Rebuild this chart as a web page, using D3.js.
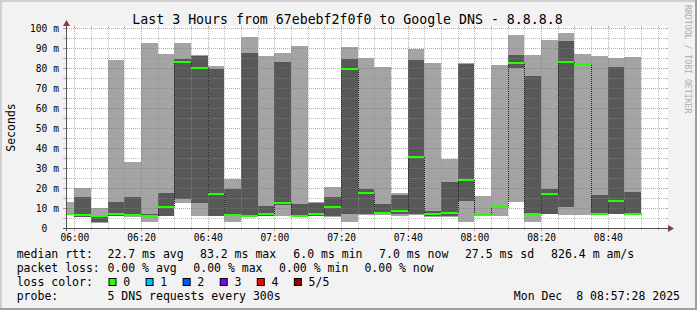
<!DOCTYPE html>
<html><head><meta charset="utf-8">
<script src="https://cdn.jsdelivr.net/npm/d3@7"></script>
<style>
html,body{margin:0;padding:0;background:#f2f2f2;}
svg{display:block;}
text{font-family:"DejaVu Sans Mono",monospace;fill:#000;}
</style></head><body>
<svg id="chart" width="697" height="310"></svg>
<script>
// ---- data (ms) ----
const barStart   = ["05:55","06:00","06:05","06:10","06:15","06:20","06:25","06:30","06:35","06:40","06:45","06:50","06:55","07:00","07:05","07:10","07:15","07:20","07:25","07:30","07:35","07:40","07:45","07:50","07:55","08:00","08:05","08:10","08:15","08:20","08:25","08:30","08:35","08:40","08:45"];
const pingMin    = [6.3,5.5,2.3,6.0,5.6,3.2,6.0,12.7,6.0,6.0,3.2,5.5,6.0,6.2,5.5,5.8,5.7,3.2,6.5,6.5,6.0,6.5,5.7,5.7,3.2,6.2,6.0,13.2,3.2,6.8,6.5,6.5,6.5,6.8,6.5];
const pingLow    = [6.6,5.7,3.2,6.2,5.8,5.5,6.2,14.5,12.7,6.2,6.0,5.5,6.2,11.7,5.7,6.0,6.0,6.8,6.8,6.8,6.8,6.8,6.0,6.0,13.7,6.4,10.2,80.2,6.5,7.0,10.3,81.8,6.5,7.0,6.5];
const pingMedian = [6.9,6.5,6.0,7.0,6.5,6.0,10.5,83.2,79.8,17.2,6.5,6.0,6.8,12.7,6.0,7.0,10.5,79.7,17.7,7.7,8.7,35.7,7.0,7.7,24.2,7.0,10.7,82.3,7.0,17.2,83.0,82.2,7.0,13.7,7.0];
const pingHigh   = [7.3,15.5,6.4,13.0,15.3,6.8,17.7,84.5,86.0,79.5,19.5,87.3,11.0,83.0,12.0,12.3,15.3,84.5,19.5,12.0,16.5,84.0,8.7,23.0,82.0,7.5,11.2,86.5,76.0,19.5,93.5,82.6,16.5,80.3,18.0];
const pingMax    = [13.2,19.9,9.8,84.0,33.2,92.7,87.0,92.7,86.5,81.0,24.5,95.7,86.0,87.7,91.0,13.0,20.5,90.5,85.0,80.5,17.7,89.5,82.7,34.7,82.3,16.0,81.5,96.5,86.5,94.0,97.5,87.0,86.0,85.0,85.5];
const yTicks      = [0,10,20,30,40,50,60,70,80,90,100];
const xTickLabels = ["06:00","06:20","06:40","07:00","07:20","07:40","08:00","08:20","08:40"];
const title = "Last 3 Hours from 67ebebf2f0f0 to Google DNS - 8.8.8.8";
const lossLabels = ["0","1","2","3","4","5/5"];
const lossColors = ["#26ff00","#00b8ff","#0059ff","#7e00ff","#ff0000","#a10000"];
const legendRtt  = ["median rtt:","22.7 ms avg","83.2 ms max","6.0 ms min","7.0 ms now","27.5 ms sd","826.4 m am/s"];
const legendLoss = ["packet loss:","0.00 % avg","0.00 % max","0.00 % min","0.00 % now"];
const legendProbe = ["probe:","5 DNS requests every 300s"];
const stamp = "Mon Dec  8 08:57:28 2025";

// ---- layout ----
const svg = d3.select("#chart");
const L = 66, R = 666, T = 28, B = 228;
const day = (hm, s = 0) => { const [h, m] = hm.split(":").map(Number); return new Date(2025, 11, 8, h, m, s); };
const x = d3.scaleTime().domain([day("05:57", 28), day("08:57", 28)]).range([L, R]);
const y = d3.scaleLinear().domain([0, 100]).range([B, T]);
const px = t => Math.round(x(t));
const py = v => Math.round(y(v));

// background + 3D frame
svg.append("rect").attr("width", 697).attr("height", 310).attr("fill", "#f2f2f2");
svg.append("rect").attr("x", 0).attr("y", 0).attr("width", 697).attr("height", 2).attr("fill", "#cfcfcf");
svg.append("rect").attr("x", 0).attr("y", 0).attr("width", 2).attr("height", 310).attr("fill", "#cfcfcf");
svg.append("rect").attr("x", 0).attr("y", 308).attr("width", 697).attr("height", 2).attr("fill", "#9e9e9e");
svg.append("rect").attr("x", 695).attr("y", 0).attr("width", 2).attr("height", 310).attr("fill", "#9e9e9e");

// canvas
svg.append("rect").attr("x", L).attr("y", T - 2).attr("width", R - L + 2).attr("height", B - T + 2).attr("fill", "#fff");

svg.append("defs").append("clipPath").attr("id", "plotclip")
  .append("rect").attr("x", L).attr("y", 0).attr("width", R - L).attr("height", 310);

const bars = barStart.map((s, i) => ({
  t0: day(s), t1: new Date(day(s).getTime() + 5 * 60000),
  min: pingMin[i], low: pingLow[i], med: pingMedian[i], high: pingHigh[i], max: pingMax[i]
}));

const gBars = svg.append("g").attr("clip-path", "url(#plotclip)");
// outer smoke (ping1..ping5)
gBars.selectAll("rect.outer").data(bars).join("rect").attr("class", "outer")
  .attr("x", d => px(d.t0)).attr("width", d => px(d.t1) - px(d.t0))
  .attr("y", d => py(d.max)).attr("height", d => py(d.min) - py(d.max))
  .attr("fill", "#a4a4a4");
// inner smoke (ping2..ping4)
gBars.selectAll("rect.inner").data(bars).join("rect").attr("class", "inner")
  .attr("x", d => px(d.t0)).attr("width", d => px(d.t1) - px(d.t0))
  .attr("y", d => py(d.high)).attr("height", d => Math.max(0, py(d.low) - py(d.high)))
  .attr("fill", "#585858");

// grid
const gGrid = svg.append("g");
const minorX = d3.timeMinute.every(5).range(x.domain()[0], x.domain()[1]).filter(t => t.getMinutes() % 20 !== 0);
const majorX = d3.timeMinute.every(20).range(x.domain()[0], x.domain()[1]);
const minorCol = "rgba(143,143,143,0.6)", majorCol = "rgba(222,79,79,0.6)";
function vline(t, col, tick) {
  const xx = px(t) + 0.5;
  gGrid.append("line").attr("x1", xx).attr("x2", xx).attr("y1", B).attr("y2", T - 1)
    .attr("stroke", col).attr("stroke-dasharray", "1,1");
  gGrid.append("line").attr("x1", xx).attr("x2", xx).attr("y1", B).attr("y2", B + tick).attr("stroke", col);
  gGrid.append("line").attr("x1", xx).attr("x2", xx).attr("y1", T - 2).attr("y2", T).attr("stroke", col);
}
minorX.forEach(t => vline(t, minorCol, 2));
majorX.forEach(t => vline(t, majorCol, 3));
function hline(v, col) {
  const yy = py(v) + 0.5;
  gGrid.append("line").attr("x1", L - 1).attr("x2", R + 1).attr("y1", yy).attr("y2", yy)
    .attr("stroke", col).attr("stroke-dasharray", "1,1");
  gGrid.append("line").attr("x1", L - 3).attr("x2", L).attr("y1", yy).attr("y2", yy).attr("stroke", col);
  gGrid.append("line").attr("x1", R).attr("x2", R + 2).attr("y1", yy).attr("y2", yy).attr("stroke", col);
}
d3.range(5, 100, 10).forEach(v => hline(v, minorCol));
yTicks.filter(v => v > 0).forEach(v => hline(v, majorCol));

// median step line (dotted) + median band
const gMed = svg.append("g").attr("clip-path", "url(#plotclip)");
const stepLine = d3.line().x(d => d[0]).y(d => d[1]);
const stepPts = [];
bars.forEach(d => { stepPts.push([px(d.t0) + 0.5, py(d.med)]); stepPts.push([px(d.t1) + 0.5, py(d.med)]); });
gMed.append("path").attr("d", stepLine(stepPts)).attr("fill", "none")
  .attr("stroke", "#202020").attr("stroke-width", 1).attr("stroke-dasharray", "1,1");
gMed.selectAll("rect.med").data(bars).join("rect").attr("class", "med")
  .attr("x", d => px(d.t0)).attr("width", d => px(d.t1) - px(d.t0))
  .attr("y", d => py(d.med + 0.5)).attr("height", d => py(d.med - 0.5) - py(d.med + 0.5))
  .attr("fill", lossColors[0]);

// axes lines + arrows
svg.append("line").attr("x1", L - 3).attr("x2", R + 4).attr("y1", B + 0.5).attr("y2", B + 0.5).attr("stroke", "#545454");
svg.append("line").attr("x1", L + 0.5).attr("x2", L + 0.5).attr("y1", B + 3).attr("y2", T - 4).attr("stroke", "#545454");
svg.append("path").attr("d", `M${R + 2},${B - 3} L${R + 8},${B + 0.5} L${R + 2},${B + 4} Z`).attr("fill", "#804040");
svg.append("path").attr("d", `M${L - 3},${T - 2} L${L + 0.5},${T - 8} L${L + 4},${T - 2} Z`).attr("fill", "#804040");

// x axis labels via d3 axis
const xAxis = d3.axisBottom(x).tickValues(xTickLabels.map(s => day(s)))
  .tickFormat(d3.timeFormat("%H:%M")).tickSize(0);
const gx = svg.append("g").attr("transform", `translate(0,${B})`).call(xAxis);
gx.select(".domain").remove();
gx.selectAll("text").attr("y", 13).attr("dy", null)
  .style("font-family", "'DejaVu Sans Mono',monospace").style("font-size", "9.6px").attr("fill", "#000");

// y axis labels via d3 axis
const yAxis = d3.axisLeft(y).tickValues(yTicks).tickFormat(d => d).tickSize(0);
const gy = svg.append("g").attr("transform", `translate(0,0)`).call(yAxis);
gy.select(".domain").remove();
gy.selectAll("text").attr("x", 47.3).attr("dy", "3.3").attr("text-anchor", "end")
  .style("font-family", "'DejaVu Sans Mono',monospace").style("font-size", "9.6px").attr("fill", "#000");
gy.selectAll(".tick").filter(d => d !== 0).append("text")
  .attr("x", 53.2).attr("dy", "3.3").attr("text-anchor", "start")
  .style("font-family", "'DejaVu Sans Mono',monospace").style("font-size", "9.6px").attr("fill", "#000").text("m");

// title
svg.append("text").attr("x", 347.5).attr("y", 23.5).attr("text-anchor", "middle")
  .style("font-size", "13.24px").text(title);

// y title
svg.append("text").attr("transform", "translate(15,127.5) rotate(-90)").attr("text-anchor", "middle")
  .style("font-size", "11.5px").text("Seconds");

// watermark
svg.append("text").attr("transform", "translate(684.5,5) rotate(90)").attr("text-anchor", "start")
  .style("font-size", "8.2px").style("fill", "#adadad").text("RRDTOOL / TOBI OETIKER");

// legend
const fs = "11.5px";
const rttX = [16.7, 107.5, 200, 293.3, 379.1, 464.9, 551.1];
legendRtt.forEach((s, i) => svg.append("text").attr("x", rttX[i]).attr("y", 258.3).style("font-size", fs).style("white-space", "pre").text(s));
const lossX = [16.7, 107.5, 193.3, 279.1, 364.4];
legendLoss.forEach((s, i) => svg.append("text").attr("x", lossX[i]).attr("y", 272.1).style("font-size", fs).style("white-space", "pre").text(s));
svg.append("text").attr("x", 16.7).attr("y", 285.9).style("font-size", fs).text("loss color:");
lossLabels.forEach((s, i) => {
  const bx = 108.5 + i * 37.07;
  svg.append("rect").attr("x", bx + 0.5).attr("y", 278.5).attr("width", 7).attr("height", 7)
    .attr("fill", lossColors[i]).attr("stroke", "#000").attr("stroke-width", 1);
  svg.append("text").attr("x", bx + 14.7).attr("y", 285.9).style("font-size", fs).text(s);
});
const probeX = [16.7, 107.5];
legendProbe.forEach((s, i) => svg.append("text").attr("x", probeX[i]).attr("y", 299.5).style("font-size", fs).text(s));
svg.append("text").attr("x", 680).attr("y", 299.5).attr("text-anchor", "end").style("font-size", fs).style("white-space", "pre").text(stamp);
</script>
</body></html>
